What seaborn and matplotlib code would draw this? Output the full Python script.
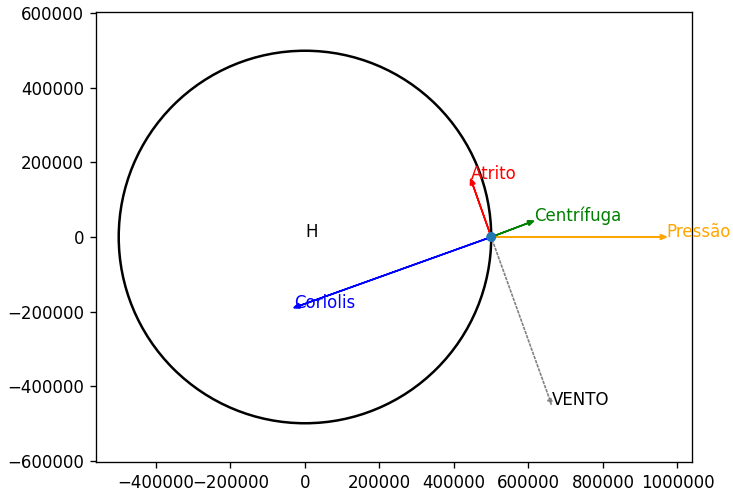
import numpy as np
import pandas as pd
import matplotlib
matplotlib.use("Agg")
import matplotlib.pyplot as plt
import seaborn as sns

# Data
radius = 500000
center = (0, 0)
origin = (500000, 0)
force_names = ["Pressão", "Centrífuga", "Atrito", "Coriolis", "VENTO"]
force_end_x = [970000, 614000, 445000, -30000, 662000]
force_end_y = [0, 43000, 156000, -190000, -450000]
force_colors = ["orange", "green", "red", "blue", "gray"]
force_styles = ["-", "-", "-", "-", ":"]
xlim = (-561000, 1039000)
ylim = (-604000, 604000)
xticks = [-400000, -200000, 0, 200000, 400000, 600000, 800000, 1000000]
yticks = [-600000, -400000, -200000, 0, 200000, 400000, 600000]

sns.set_style("ticks")
plt.rcParams["font.family"] = ["DejaVu Sans"]

dpi = 120
fig = plt.figure(figsize=(733 / dpi, 493 / dpi), dpi=dpi)
ax = fig.add_axes([96 / 733, 1 - 462 / 493, 596 / 733, 450 / 493])

circle = plt.Circle(center, radius, fill=False, color="black", lw=1.5)
ax.add_patch(circle)

for name, ex, ey, c, ls in zip(force_names, force_end_x, force_end_y, force_colors, force_styles):
    dx = ex - origin[0]
    dy = ey - origin[1]
    lw = 1.0
    ax.arrow(origin[0], origin[1], dx, dy, width=0, head_width=13000, head_length=16000,
             length_includes_head=True, color=c, lw=lw, linestyle=ls)
    ax.text(ex, ey, name, color=("black" if name == "VENTO" else c), fontsize=10)

ax.text(center[0], center[1], "H", fontsize=10, color="black")

pt = pd.DataFrame({"x": [origin[0]], "y": [origin[1]]})
sns.scatterplot(data=pt, x="x", y="y", ax=ax, s=36, color="tab:blue", edgecolor="none", zorder=5)

ax.set_xlim(*xlim)
ax.set_ylim(*ylim)
ax.set_xticks(xticks)
ax.set_yticks(yticks)
ax.ticklabel_format(style="plain")
ax.set_xlabel("")
ax.set_ylabel("")
for s in ax.spines.values():
    s.set_visible(True)
    s.set_color("black")
ax.tick_params(colors="black", labelsize=10)

fig.savefig("out.png", dpi=dpi)
